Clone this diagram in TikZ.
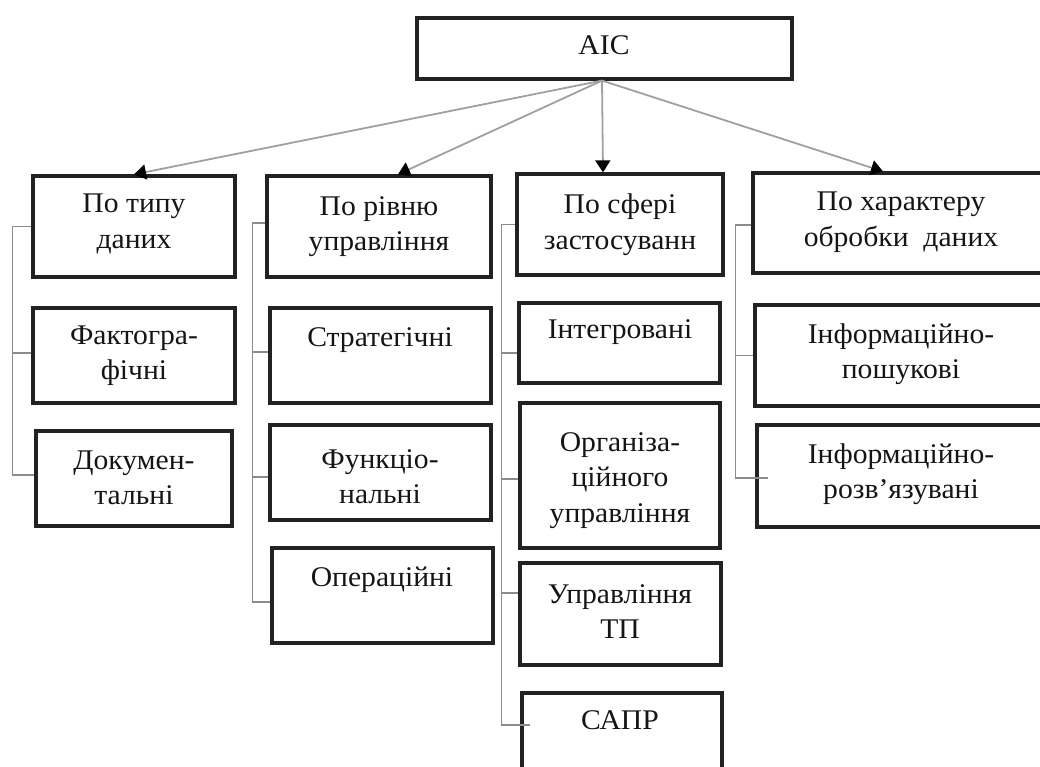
\documentclass[tikz,border=0pt]{standalone}
\usepackage{fontspec}
\setmainfont[FakeStretch=1.04]{Liberation Serif}
\usetikzlibrary{arrows.meta,fit}
\definecolor{boxc}{HTML}{222222}
\definecolor{brc}{HTML}{8C8C8C}
\definecolor{arc}{HTML}{A0A0A0}
\definecolor{txc}{HTML}{151515}
\newcommand{\mltext}[1]{\begin{tabular}[t]{@{}c@{}}#1\end{tabular}}
\begin{document}
\begin{tikzpicture}[x=1pt,y=-1pt,
  box/.style={draw=boxc,line width=3.2pt,rectangle,inner sep=0pt},
  txt/.style={inner sep=0pt,anchor=base,text=txc,font=\fontsize{28.5}{35.5}\selectfont},
  arr/.style={draw=arc,line width=1.8pt,-{Triangle[length=12pt,width=15pt,black]}},
  br/.style={draw=brc,line width=1.6pt}]
\useasboundingbox (0,0) rectangle (1040,767);
\clip (0,0) rectangle (1040,767);

% top
\node[box,fit={(417,18)(792,79)}] (aic) {};
\node[txt] (taic) at (604,55) {АІС};

% column 1
\node[box,fit={(33,176)(235,277)}] (b11) {};
\node[box,fit={(33,308)(235,403)}] (b12) {};
\node[box,fit={(36,431)(232,526)}] (b13) {};
\node[txt] (t11) at (134,213) {\mltext{По типу\\даних}};
\node[txt] (t12) at (134,344) {\mltext{Фактогра-\\фічні}};
\node[txt] (t13) at (134,469) {\mltext{Докумен-\\тальні}};

% column 2
\node[box,fit={(267,176)(491,277)}] (b21) {};
\node[box,fit={(270,308)(491,403)}] (b22) {};
\node[box,fit={(270,425)(491,520)}] (b23) {};
\node[box,fit={(272,548)(493,643)}] (b24) {};
\node[txt] (t21) at (379,215) {\mltext{По рівню\\управління}};
\node[txt] (t22) at (380,346) {Стратегічні};
\node[txt] (t23) at (380,468) {\mltext{Функціо-\\нальні}};
\node[txt] (t24) at (382,586) {Операційні};

% column 3
\node[box,fit={(517,174)(723,275)}] (b31) {};
\node[box,fit={(519,303)(720,383)}] (b32) {};
\node[box,fit={(520,403)(720,548)}] (b33) {};
\node[box,fit={(520,563)(721,665)}] (b34) {};
\node[box,fit={(522,693)(722,800)}] (b35) {};
\node[txt] (t31) at (620,214) {\mltext{По сфері\\застосуванн}};
\node[txt] (t32) at (620,338) {Інтегровані};
\node[txt] (t33) at (620,451) {\mltext{Організа-\\ційного\\управління}};
\node[txt] (t34) at (620,603) {\mltext{Управління\\ТП}};
\node[txt] (t35) at (620,729) {САПР};

% column 4
\node[box,fit={(753,173)(1047,273)}] (b41) {};
\node[box,fit={(755,305)(1047,406)}] (b42) {};
\node[box,fit={(757,425)(1047,527)}] (b43) {};
\node[txt] (t41) at (901,211) {\mltext{По характеру\\обробки\ \ даних}};
\node[txt] (t42) at (901,343) {\mltext{Інформаційно-\\пошукові}};
\node[txt] (t43) at (901,463) {\mltext{Інформаційно-\\розв’язувані}};

% arrows
\draw[arr] ([xshift=-2.5pt]aic.south) -- (b11.north);
\draw[arr] ([xshift=-2.5pt]aic.south) -- ([xshift=19pt]b21.north);
\draw[arr] ([xshift=-2.5pt]aic.south) -- ([xshift=-17pt]b31.north);
\draw[arr] ([xshift=-2.5pt]aic.south) -- ([xshift=-17pt]b41.north);

% brackets column 1
\draw[br] (b11.west) -- ++(-19,0) |- ([yshift=3.5pt]b13.west);
\draw[br] ([yshift=2.5pt]b12.west) -- ++(-19,0);

% brackets column 2
\draw[br] ([yshift=3.5pt]b21.west) -- ++(-13,0) |- ([yshift=-6.5pt]b24.west);
\draw[br] ([yshift=3.5pt]b22.west) -- ++(-16,0);
\draw[br] ([yshift=-4.5pt]b23.west) -- ++(-16,0);

% brackets column 3
\draw[br] (b31.west) -- ++(-14,0) |- ([xshift=10pt,yshift=21.5pt]b35.west);
\draw[br] ([yshift=-10pt]b32.west) -- ++(-16,0);
\draw[br] ([yshift=-3.5pt]b33.west) -- ++(-17,0);
\draw[br] ([yshift=21pt]b34.west) -- ++(-17,0);

% brackets column 4
\draw[br] ([yshift=-2pt]b41.west) -- ++(-16,0) |- ([xshift=13pt,yshift=-2pt]b43.west);
\draw[br] (b42.west) -- ++(-18,0);
\end{tikzpicture}
\end{document}
